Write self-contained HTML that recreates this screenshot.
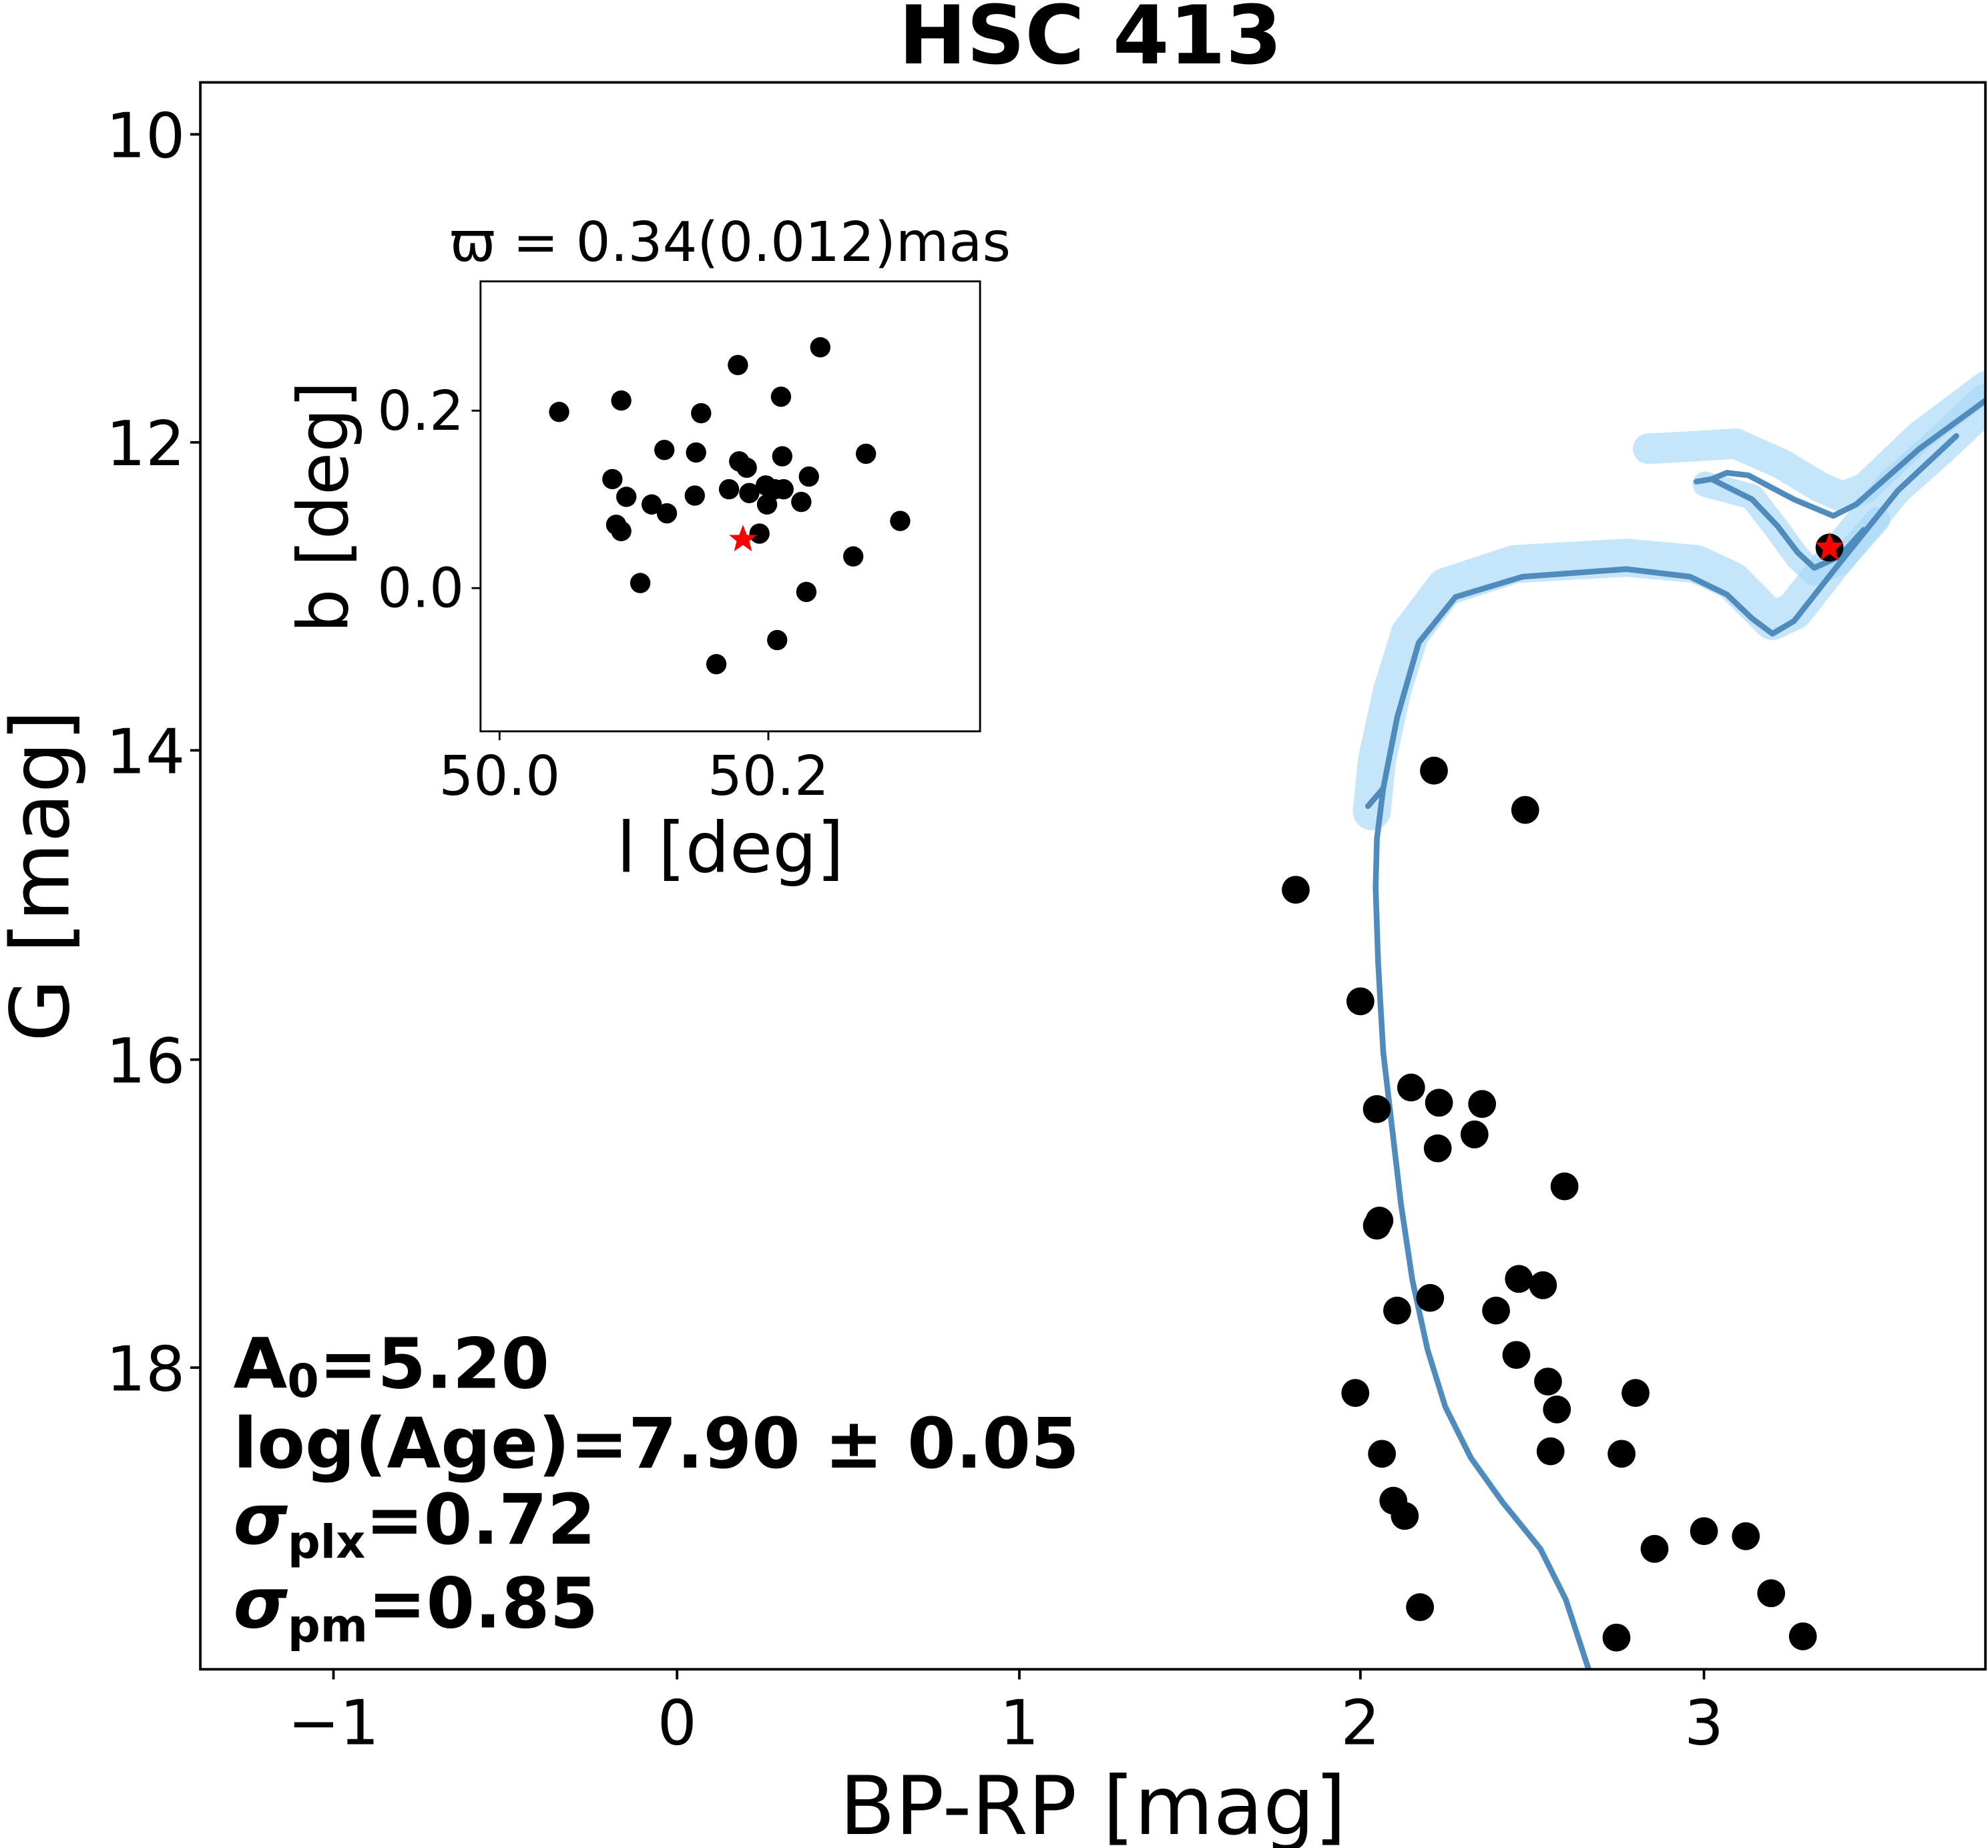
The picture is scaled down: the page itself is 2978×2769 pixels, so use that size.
<!DOCTYPE html>
<html><head><meta charset="utf-8"><style>
html,body{margin:0;padding:0;background:#fff;}
svg{display:block;}
text{font-family:"DejaVu Sans","Liberation Sans",sans-serif;fill:#000;}
</style></head><body>
<svg width="2978" height="2769" viewBox="0 0 1568 1458" xmlns="http://www.w3.org/2000/svg">
<rect width="1568" height="1458" fill="#fff"/>
<text x="860" y="50" font-size="64" font-weight="bold" text-anchor="middle">HSC 413</text>
<defs><clipPath id="c"><rect x="158" y="65" width="1408" height="1252"/></clipPath></defs>
<g clip-path="url(#c)">
<g fill="none" stroke="#a6d8f7" stroke-opacity="0.65" stroke-linejoin="round" stroke-linecap="round">
<path d="M1082,640 L1086,600 L1098,545 L1112,500 L1140,463 L1195,445 L1283,440 L1338,445 L1366,458 L1385,477 L1398,490 L1415,482 L1448,440 L1494,384 L1530,352 L1566,318" stroke-width="30"/>
<path d="M1300,354 L1338,352 L1369,350 L1405,366 L1435,384 L1453,392 L1471,385 L1514,344 L1566,305" stroke-width="24"/>
<path d="M1345,382 L1382,392 L1402,418 L1418,440 L1431,452 L1451,444 L1481,410" stroke-width="20"/>
</g>
<g fill="none" stroke="#4f8bbd" stroke-width="4.5" stroke-linejoin="round" stroke-linecap="round">
<path d="M1253,1317 L1235,1262 L1215,1222 L1185,1185 L1160,1150 L1140,1110 L1126,1065 L1114,1010 L1105,950 L1098,890 L1091,830 L1087,760 L1085,700 L1086,662 L1091,622 L1079,636 M1091,622 L1102,566 L1119,507 L1148,471 L1201,455 L1283,449 L1333,455 L1362,469 L1382,488 L1398,500 L1415,490 L1448,448 L1497,387 L1543,344"/>
<path d="M1338,380 L1350,378 L1362,373 L1379,375 L1415,394 L1446,407 L1464,398 L1514,354 L1566,316"/>
<path d="M1350,378 L1382,394 L1402,415 L1418,436 L1431,448 L1451,439 L1470,418"/>
</g>
<g fill="#000">
<circle cx="1131" cy="608" r="11"/><circle cx="1203" cy="639" r="11"/><circle cx="1022" cy="702" r="11"/><circle cx="1073" cy="790" r="11"/><circle cx="1113" cy="858" r="11"/><circle cx="1086" cy="875" r="11"/><circle cx="1135" cy="870" r="11"/><circle cx="1169" cy="871" r="11"/><circle cx="1134" cy="906" r="11"/><circle cx="1163" cy="895" r="11"/><circle cx="1234" cy="936" r="11"/><circle cx="1088" cy="963" r="11"/><circle cx="1086" cy="967" r="11"/><circle cx="1198" cy="1009" r="11"/><circle cx="1217" cy="1014" r="11"/><circle cx="1128" cy="1024" r="11"/><circle cx="1180" cy="1034" r="11"/><circle cx="1102" cy="1034" r="11"/><circle cx="1196" cy="1069" r="11"/><circle cx="1221" cy="1090" r="11"/><circle cx="1228" cy="1112" r="11"/><circle cx="1069" cy="1099" r="11"/><circle cx="1290" cy="1099" r="11"/><circle cx="1223" cy="1145" r="11"/><circle cx="1090" cy="1147" r="11"/><circle cx="1279" cy="1147" r="11"/><circle cx="1099" cy="1184" r="11"/><circle cx="1108" cy="1196" r="11"/><circle cx="1344" cy="1208" r="11"/><circle cx="1377" cy="1212" r="11"/><circle cx="1305" cy="1222" r="11"/><circle cx="1397" cy="1257" r="11"/><circle cx="1120" cy="1268" r="11"/><circle cx="1275" cy="1292" r="11"/><circle cx="1422" cy="1291" r="11"/><circle cx="1443" cy="432" r="11"/>
</g>
<polygon points="1443,420 1446,428 1454,428 1448,434 1450,442 1443,437 1436,442 1438,434 1432,428 1440,428" fill="#f00"/>
</g>
<rect x="158" y="65" width="1408" height="1252" fill="none" stroke="#000" stroke-width="2"/>
<g stroke="#000" stroke-width="2">
<line x1="263" y1="1317" x2="263" y2="1325"/><line x1="534" y1="1317" x2="534" y2="1325"/><line x1="804" y1="1317" x2="804" y2="1325"/><line x1="1073" y1="1317" x2="1073" y2="1325"/><line x1="1344" y1="1317" x2="1344" y2="1325"/>
<line x1="150" y1="106" x2="158" y2="106"/><line x1="150" y1="349" x2="158" y2="349"/><line x1="150" y1="592" x2="158" y2="592"/><line x1="150" y1="836" x2="158" y2="836"/><line x1="150" y1="1079" x2="158" y2="1079"/>
</g>
<g font-size="49" text-anchor="middle">
<text x="263" y="1376">−1</text><text x="534" y="1376">0</text><text x="804" y="1376">1</text><text x="1073" y="1376">2</text><text x="1344" y="1376">3</text>
</g>
<g font-size="49" text-anchor="end">
<text x="146" y="124">10</text><text x="146" y="367">12</text><text x="146" y="610">14</text><text x="146" y="854">16</text><text x="146" y="1097">18</text>
</g>
<text x="862" y="1447" font-size="64" text-anchor="middle">BP-RP [mag]</text>
<text transform="translate(54,691) rotate(-90)" font-size="64" text-anchor="middle">G [mag]</text>
<g font-size="55" font-weight="bold">
<text x="184" y="1095">A<tspan font-size="36" dy="7">0</tspan><tspan dy="-7">=5.20</tspan></text>
<text x="184" y="1158">log(Age)=7.90 ± 0.05</text>
<text x="184" y="1218"><tspan font-style="italic">σ</tspan><tspan font-size="36" dy="11">plx</tspan><tspan dy="-11">=0.72</tspan></text>
<text x="184" y="1284"><tspan font-style="italic">σ</tspan><tspan font-size="36" dy="11">pm</tspan><tspan dy="-11">=0.85</tspan></text>
</g>
<rect x="379" y="222" width="394" height="355" fill="#fff" stroke="#000" stroke-width="1.5"/>
<g fill="#000">
<circle cx="441" cy="325" r="8"/><circle cx="490" cy="316" r="8"/><circle cx="582" cy="288" r="8"/><circle cx="647" cy="274" r="8"/><circle cx="616" cy="313" r="8"/><circle cx="553" cy="326" r="8"/><circle cx="524" cy="355" r="8"/><circle cx="549" cy="357" r="8"/><circle cx="583" cy="364" r="8"/><circle cx="617" cy="360" r="8"/><circle cx="683" cy="358" r="8"/><circle cx="483" cy="378" r="8"/><circle cx="589" cy="369" r="8"/><circle cx="575" cy="386" r="8"/><circle cx="604" cy="383" r="8"/><circle cx="591" cy="389" r="8"/><circle cx="611" cy="386" r="8"/><circle cx="618" cy="386" r="8"/><circle cx="638" cy="376" r="8"/><circle cx="494" cy="392" r="8"/><circle cx="548" cy="391" r="8"/><circle cx="514" cy="398" r="8"/><circle cx="526" cy="405" r="8"/><circle cx="605" cy="398" r="8"/><circle cx="632" cy="396" r="8"/><circle cx="486" cy="414" r="8"/><circle cx="490" cy="419" r="8"/><circle cx="710" cy="411" r="8"/><circle cx="599" cy="421" r="8"/><circle cx="673" cy="439" r="8"/><circle cx="505" cy="460" r="8"/><circle cx="636" cy="467" r="8"/><circle cx="613" cy="505" r="8"/><circle cx="565" cy="524" r="8"/>
</g>
<polygon points="586,414 589,422 597,422 591,427 593,435 586,430 579,435 581,427 575,422 583,422" fill="#f00"/>
<g stroke="#000" stroke-width="1.5">
<line x1="394" y1="577" x2="394" y2="584"/><line x1="606" y1="577" x2="606" y2="584"/>
<line x1="372" y1="324" x2="379" y2="324"/><line x1="372" y1="464" x2="379" y2="464"/>
</g>
<g font-size="43" text-anchor="middle">
<text x="394" y="627">50.0</text><text x="606" y="627">50.2</text>
</g>
<g font-size="43" text-anchor="end">
<text x="366" y="339">0.2</text><text x="366" y="479">0.0</text>
</g>
<text x="576" y="688" font-size="55" text-anchor="middle">l [deg]</text>
<text transform="translate(274,400) rotate(-90)" font-size="55" text-anchor="middle">b [deg]</text>
<text x="576" y="206" font-size="43" text-anchor="middle">ϖ = 0.34(0.012)mas</text>
</svg>
</body></html>
